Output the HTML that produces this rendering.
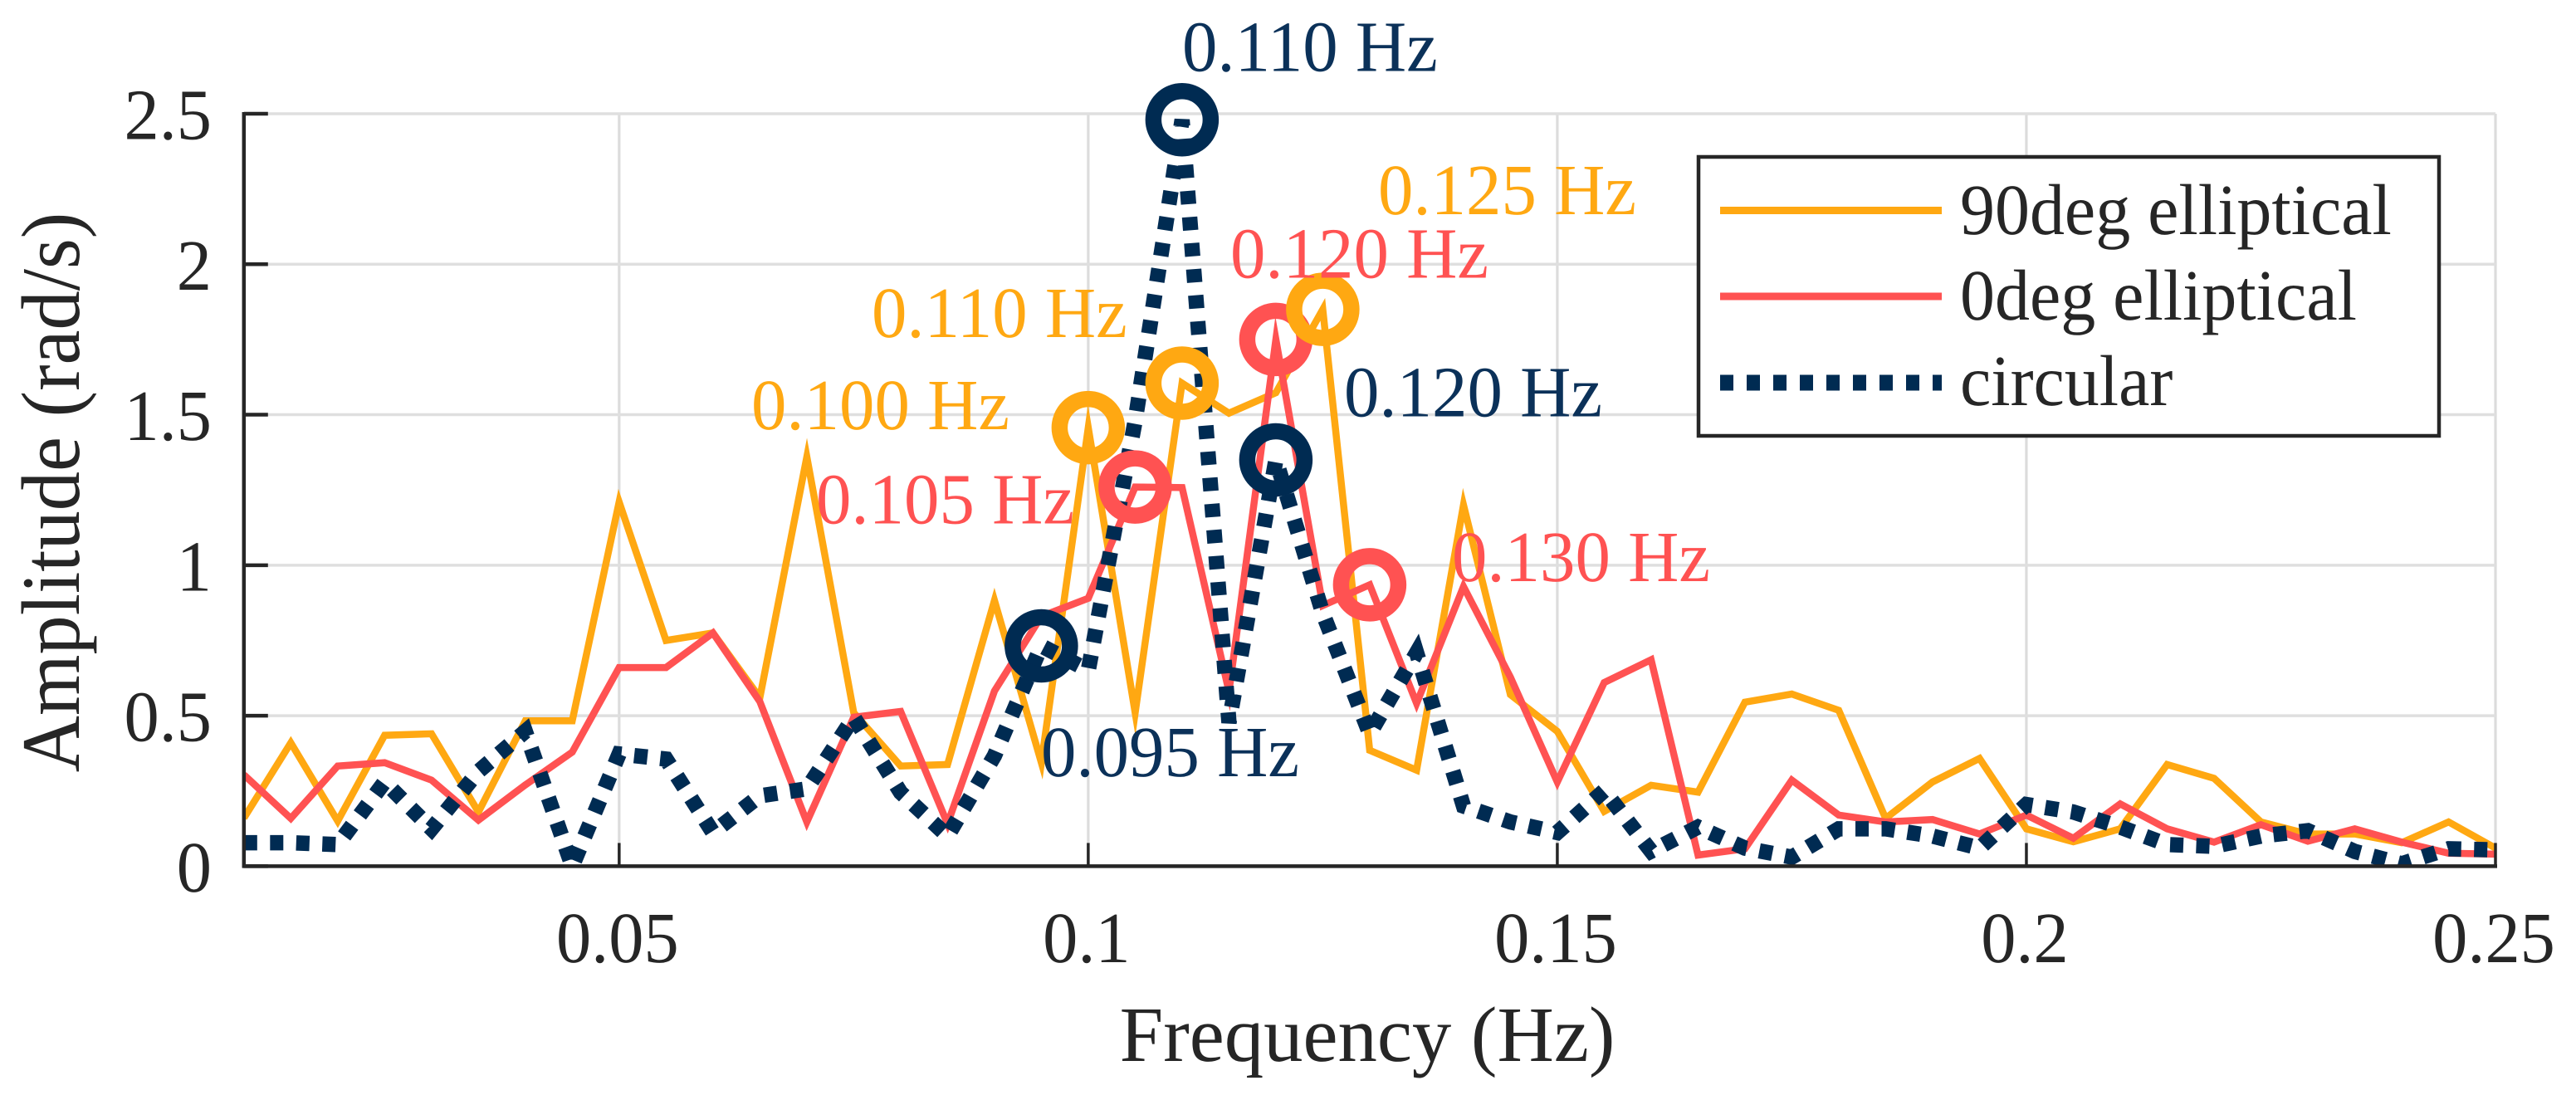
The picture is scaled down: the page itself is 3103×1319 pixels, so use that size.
<!DOCTYPE html>
<html lang="en">
<head>
<meta charset="utf-8">
<title>Amplitude vs Frequency</title>
<style>
html,body{margin:0;padding:0;background:#fff;}
svg{display:block;}
text{font-family:"Liberation Serif","Times New Roman",serif;text-rendering:geometricPrecision;}
</style>
</head>
<body>
<svg id="chart" xmlns="http://www.w3.org/2000/svg" width="3103" height="1319" viewBox="0 0 3103 1319">
  <defs>
    <clipPath id="plot-clip"><rect x="293.8" y="137" width="2712.2" height="906.4"/></clipPath>
  </defs>
  <rect x="0" y="0" width="3103" height="1319" fill="#fff"/>
  <g id="grid"></g>
  <g id="series" clip-path="url(#plot-clip)"></g>
  <g id="axes"></g>
  <g id="markers"></g>
  <g id="tick-labels" font-size="87" fill="#262626"></g>

  <text transform="translate(1647,1278)" text-anchor="middle" font-size="94.7" fill="#262626">Frequency (Hz)</text>
  <text transform="translate(95,593) rotate(-90) scale(1,1.06)" text-anchor="middle" font-size="94.5" fill="#262626">Amplitude (rad/s)</text>

  <g font-size="87">
    <text transform="translate(1424,85.5) scale(.975,1)" fill="#0B3159">0.110 Hz</text>
    <text transform="translate(1660,258) scale(.975,1)" fill="#FFA812">0.125 Hz</text>
    <text transform="translate(1482,334.5) scale(.975,1)" fill="#FF5252">0.120 Hz</text>
    <text transform="translate(1050,406) scale(.975,1)" fill="#FFA812">0.110 Hz</text>
    <text transform="translate(1619,501.5) scale(.975,1)" fill="#0B3159">0.120 Hz</text>
    <text transform="translate(905,517) scale(.975,1)" fill="#FFA812">0.100 Hz</text>
    <text transform="translate(983,630.5) scale(.975,1)" fill="#FF5252">0.105 Hz</text>
    <text transform="translate(1749,700) scale(.975,1)" fill="#FF5252">0.130 Hz</text>
    <text transform="translate(1254,935) scale(.975,1)" fill="#0B3159">0.095 Hz</text>
  </g>

  <g>
    <rect x="2046" y="189" width="892" height="336" fill="#fff" stroke="#262626" stroke-width="4.5"/>
    <g>
      <line x1="2072" y1="253.5" x2="2339" y2="253.5" stroke="#FFA812" stroke-width="9"/>
      <text transform="translate(2361,282) scale(.965,1)" font-size="87" fill="#262626">90deg elliptical</text>
    </g>
    <g>
      <line x1="2072" y1="357" x2="2339" y2="357" stroke="#FF5252" stroke-width="9"/>
      <text transform="translate(2361,385) scale(.965,1)" font-size="87" fill="#262626">0deg elliptical</text>
    </g>
    <g>
      <line x1="2072" y1="461" x2="2339" y2="461" stroke="#002B52" stroke-width="19" stroke-dasharray="16 16"/>
      <text transform="translate(2361,488) scale(.965,1)" font-size="87" fill="#262626">circular</text>
    </g>
  </g>
</svg>

<script>
var frequencies = [0.01,0.015,0.02,0.025,0.03,0.035,0.04,0.045,0.05,0.055,0.06,0.065,0.07,0.075,0.08,0.085,0.09,0.095,0.1,0.105,0.11,0.115,0.12,0.125,0.13,0.135,0.14,0.145,0.15,0.155,0.16,0.165,0.17,0.175,0.18,0.185,0.19,0.195,0.2,0.205,0.21,0.215,0.22,0.225,0.23,0.235,0.24,0.245,0.25];
var elliptical90 = [0.16,0.41,0.15,0.435,0.44,0.18,0.483,0.483,1.21,0.75,0.775,0.56,1.36,0.51,0.333,0.338,0.883,0.344,1.457,0.51,1.605,1.505,1.573,1.85,0.385,0.319,1.2,0.57,0.448,0.182,0.269,0.246,0.545,0.572,0.518,0.159,0.28,0.358,0.124,0.081,0.124,0.338,0.292,0.147,0.107,0.107,0.078,0.147,0.06];
var elliptical0 = [0.304,0.159,0.333,0.344,0.286,0.153,0.27,0.379,0.66,0.66,0.775,0.547,0.147,0.495,0.514,0.141,0.582,0.83,0.89,1.26,1.258,0.58,1.75,0.866,0.935,0.541,0.929,0.628,0.28,0.61,0.686,0.037,0.058,0.286,0.17,0.147,0.155,0.107,0.17,0.093,0.207,0.124,0.08,0.138,0.083,0.124,0.08,0.043,0.04];
var circular = [0.078,0.078,0.072,0.28,0.124,0.315,0.448,0,0.373,0.356,0.112,0.234,0.257,0.495,0.245,0.1,0.367,0.732,0.651,1.48,2.48,0.477,1.35,0.84,0.44,0.709,0.2,0.147,0.112,0.251,0.05,0.13,0.06,0.03,0.124,0.124,0.1,0.06,0.205,0.18,0.13,0.072,0.066,0.1,0.118,0.049,0.008,0.058,0.054];

var peakFreq90 = [0.1,0.11,0.125];
var peakAmp90 = [1.457,1.605,1.85];
var peakFreq0 = [0.105,0.12,0.13];
var peakAmp0 = [1.26,1.75,0.935];
var peakFreqCircular = [0.095,0.11,0.12];
var peakAmpCircular = [0.732,2.48,1.35];

var xTicks = [0.05,0.1,0.15,0.2,0.25];
var xTickLabels = ["0.05","0.1","0.15","0.2","0.25"];
var yTicks = [0,0.5,1,1.5,2,2.5];
var yTickLabels = ["0","0.5","1","1.5","2","2.5"];

var NS = "http://www.w3.org/2000/svg";
var xMin = 0.01, xMax = 0.25, yMin = 0, yMax = 2.5;
var pxLeft = 293.8, pxRight = 3006, pxTop = 137, pxBottom = 1043.4;

function xScale(f) { return pxLeft + (f - xMin) / (xMax - xMin) * (pxRight - pxLeft); }
function yScale(v) { return pxBottom - (v - yMin) / (yMax - yMin) * (pxBottom - pxTop); }

function make(parentId, tag, attrs, name) {
  var el = document.createElementNS(NS, tag);
  for (var k in attrs) { el.setAttribute(k, attrs[k]); }
  
  
  document.getElementById(parentId).appendChild(el);
  return el;
}

function slug(v) { return String(v).replace('.', '-'); }

/* grid */
xTicks.forEach(function (t) {
  make('grid', 'line', {x1: xScale(t), y1: pxTop, x2: xScale(t), y2: pxBottom, stroke: '#DCDCDC', 'stroke-width': 3.2}, 'x-grid-line-' + slug(t));
});
yTicks.forEach(function (t) {
  make('grid', 'line', {x1: pxLeft, y1: yScale(t), x2: pxRight, y2: yScale(t), stroke: '#DFDFDF', 'stroke-width': 3.5}, 'y-grid-line-' + slug(t));
});

/* series */
function seriesPoints(values) {
  return values.map(function (v, i) { return xScale(frequencies[i]).toFixed(1) + ',' + yScale(v).toFixed(1); }).join(' ');
}
make('series', 'polyline', {points: seriesPoints(elliptical90), fill: 'none', stroke: '#FFA812', 'stroke-width': 8.5, 'stroke-linejoin': 'miter', 'stroke-miterlimit': 10}, 'series-90deg-elliptical');
make('series', 'polyline', {points: seriesPoints(elliptical0), fill: 'none', stroke: '#FF5252', 'stroke-width': 8.5, 'stroke-linejoin': 'miter', 'stroke-miterlimit': 10}, 'series-0deg-elliptical');
make('series', 'polyline', {points: seriesPoints(circular), fill: 'none', stroke: '#002B52', 'stroke-width': 18.5, 'stroke-dasharray': '16 15.5', 'stroke-linejoin': 'miter'}, 'series-circular');

/* axes */
make('axes', 'line', {x1: pxLeft, y1: pxTop - 2, x2: pxLeft, y2: pxBottom + 2, stroke: '#262626', 'stroke-width': 4.5}, 'y-axis-line');
make('axes', 'line', {x1: pxLeft - 2, y1: pxBottom, x2: pxRight + 2, y2: pxBottom, stroke: '#262626', 'stroke-width': 4.5}, 'x-axis-line');
xTicks.forEach(function (t) {
  make('axes', 'line', {x1: xScale(t), y1: pxBottom, x2: xScale(t), y2: pxBottom - 28, stroke: '#262626', 'stroke-width': 3.5}, 'x-tick-' + slug(t));
});
yTicks.forEach(function (t) {
  make('axes', 'line', {x1: pxLeft, y1: yScale(t), x2: pxLeft + 29, y2: yScale(t), stroke: '#262626', 'stroke-width': 4.5}, 'y-tick-' + slug(t));
});

/* tick labels */
xTicks.forEach(function (t, i) {
  var el = make('tick-labels', 'text', {transform: 'translate(' + (xScale(t) - 2) + ',1159) scale(.97,1)', 'text-anchor': 'middle'}, 'x-tick-label-' + slug(t));
  el.textContent = xTickLabels[i];
});
yTicks.forEach(function (t, i) {
  var el = make('tick-labels', 'text', {transform: 'translate(255,' + (yScale(t) + 30.5) + ') scale(.97,1)', 'text-anchor': 'end'}, 'y-tick-label-' + slug(t));
  el.textContent = yTickLabels[i];
});

/* peak markers: drawn in ascending frequency so overlaps stack like the reference */
function collectPeaks(freqs, amps, color, prefix, rank) {
  return freqs.map(function (f, i) {
    return {f: f, a: amps[i], color: color, prefix: prefix, rank: rank};
  });
}
var allPeaks = collectPeaks(peakFreq90, peakAmp90, '#FFA812', 'marker-90deg', 0)
  .concat(collectPeaks(peakFreq0, peakAmp0, '#FF5252', 'marker-0deg', 1))
  .concat(collectPeaks(peakFreqCircular, peakAmpCircular, '#002B52', 'marker-circular', 2));
allPeaks.sort(function (p, q) { return (p.f - q.f) || (p.rank - q.rank); });
allPeaks.forEach(function (p) {
  make('markers', 'circle', {cx: xScale(p.f), cy: yScale(p.a), r: 34.5, fill: 'none', stroke: p.color, 'stroke-width': 19.5}, p.prefix + '-peak-' + slug(p.f));
});
</script>
</body>
</html>
